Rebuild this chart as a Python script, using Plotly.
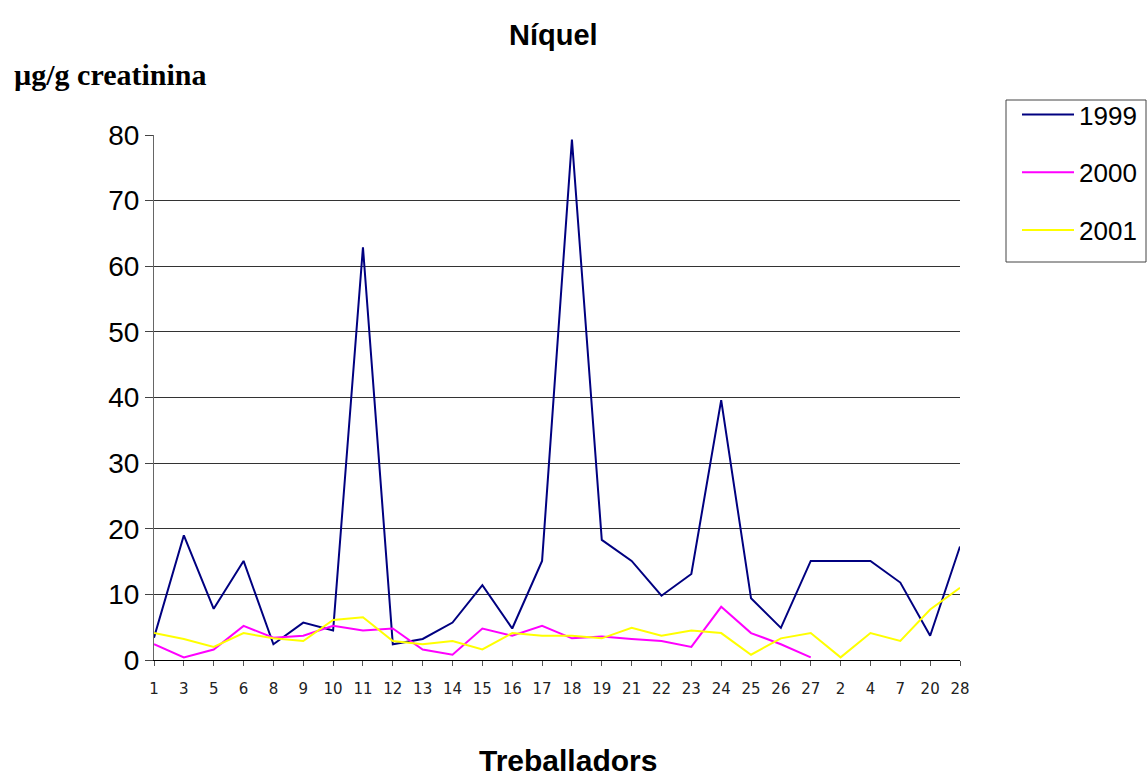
import plotly.graph_objects as go

# Treballadors (x categories, in plotted order)
treballadors = ["1", "3", "5", "6", "8", "9", "10", "11", "12", "13", "14", "15", "16", "17",
                "18", "19", "21", "22", "23", "24", "25", "26", "27", "2", "4", "7", "20", "28"]

# Níquel en orina (µg/g creatinina) per any
niquel_1999 = [3.4, 19.0, 7.8, 15.1, 2.4, 5.7, 4.5, 62.9, 2.4, 3.2, 5.7, 11.4, 4.8, 15.1,
               79.3, 18.3, 15.1, 9.8, 13.1, 39.6, 9.4, 4.9, 15.1, 15.1, 15.1, 11.8, 3.7, 17.3]
niquel_2000 = [2.4, 0.4, 1.6, 5.2, 3.4, 3.7, 5.2, 4.5, 4.8, 1.6, 0.8, 4.8, 3.7, 5.2,
               3.3, 3.6, 3.2, 2.9, 2.0, 8.1, 4.1, 2.4, 0.4]
niquel_2001 = [4.1, 3.2, 2.0, 4.1, 3.3, 2.9, 6.1, 6.5, 2.9, 2.4, 2.9, 1.6, 4.1, 3.7,
               3.7, 3.3, 4.9, 3.7, 4.5, 4.1, 0.8, 3.3, 4.1, 0.4, 4.1, 2.9, 7.7, 11.0]

y_ticks = [0, 10, 20, 30, 40, 50, 60, 70, 80]

SANS = "Liberation Sans, Arial, sans-serif"

fig = go.Figure()
series = [
    ("1999", niquel_1999, "#000080"),
    ("2000", niquel_2000, "#FF00FF"),
    ("2001", niquel_2001, "#FFFF00"),
]
for name, vals, color in series:
    fig.add_trace(go.Scatter(
        x=treballadors[:len(vals)], y=vals, mode="lines", name=name,
        legendgroup=name, line=dict(color=color, width=2),
    ))

W, H = 1147, 780
L, R, T, B = 154, 187, 135, 120
pw, ph = W - L - R, H - T - B

def px(xp):
    return (xp - L) / pw

def py(yp):
    return (H - B - yp) / ph

fig.update_layout(
    width=W, height=H,
    margin=dict(l=L, r=R, t=T, b=B, autoexpand=False),
    paper_bgcolor="white", plot_bgcolor="white",
    showlegend=True,
    legend=dict(
        x=px(1017), y=py(91), xanchor="left", yanchor="top",
        font=dict(family=SANS, size=26, color="black"),
        bgcolor="rgba(0,0,0,0)", borderwidth=0,
        tracegroupgap=21, itemwidth=52,
    ),
    xaxis=dict(
        type="category", range=[0, len(treballadors) - 1],
        showgrid=False, showline=True, linecolor="black", linewidth=1,
        ticks="outside", ticklen=5, tickcolor="#555555",
        ticklabelstandoff=10,
        tickfont=dict(family="DejaVu Sans, sans-serif", size=15, color="#222222"),
        zeroline=False,
    ),
    yaxis=dict(
        range=[0, 80], tickvals=y_ticks,
        showgrid=True, gridcolor="#333333", gridwidth=1,
        showline=True, linecolor="#666666", linewidth=1,
        ticks="outside", ticklen=8, tickcolor="#444444",
        tickfont=dict(family=SANS, size=28, color="black"),
        zeroline=False,
    ),
    shapes=[dict(
        type="rect", xref="paper", yref="paper",
        x0=px(1006), x1=px(1146), y0=py(262), y1=py(100),
        line=dict(color="#444444", width=1), fillcolor="rgba(0,0,0,0)",
    )],
    annotations=[
        dict(text="<b>Níquel</b>", xref="paper", yref="paper",
             x=px(553), y=py(35), xanchor="center", yanchor="middle",
             showarrow=False, font=dict(family=SANS, size=29, color="black")),
        dict(text="<b>Treballadors</b>", xref="paper", yref="paper",
             x=px(568), y=py(779), xanchor="center", yanchor="bottom",
             showarrow=False, font=dict(family=SANS, size=30, color="black")),
        dict(text="<b>µg/g creatinina</b>", xref="paper", yref="paper",
             x=px(12), y=py(74), xanchor="left", yanchor="middle",
             showarrow=False,
             font=dict(family="Liberation Serif, Times New Roman, serif", size=30, color="black")),
    ],
)

fig.write_html("out.html")
